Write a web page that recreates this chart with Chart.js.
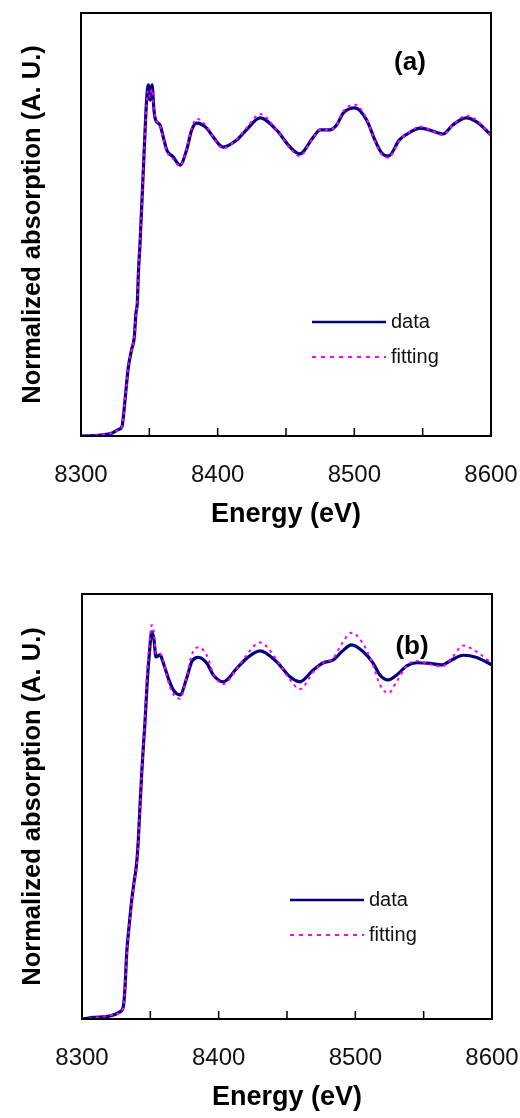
<!DOCTYPE html>
<html>
<head>
<meta charset="utf-8">
<script src="https://cdn.jsdelivr.net/npm/chart.js@4.4.1/dist/chart.umd.min.js"></script>
<style>
  html, body { margin: 0; padding: 0; background: #fff; }
  .panel { position: absolute; left: 0; width: 520px; }
  #panelA { top: 0; height: 560px; }
  #panelB { top: 581px; height: 537px; }
</style>
</head>
<body>
<div class="panel" id="panelA"><canvas id="chartA"></canvas></div>
<div class="panel" id="panelB"><canvas id="chartB"></canvas></div>
<script>
// energy grid (eV) and normalized absorption, sample (a)
const energyA = [8300, 8314, 8323, 8327, 8330, 8331, 8332, 8333.4, 8334.6, 8337,
  8339, 8340.2, 8341.2, 8342, 8343.2, 8344.4, 8345.6, 8346.8, 8348, 8349.2,
  8350.5, 8352, 8353.4, 8354.6, 8357.8, 8360.2, 8362.7, 8367.5, 8372.4, 8377.3,
  8381, 8384.7, 8392, 8396.8, 8404, 8414, 8421, 8431, 8443, 8453,
  8460, 8470, 8475, 8482, 8487, 8492, 8500.5, 8509, 8515, 8520,
  8525, 8533, 8541, 8548, 8555, 8565, 8572, 8582, 8589.5, 8600];
const dataA = [0.00, 0.003, 0.01, 0.02, 0.03, 0.062, 0.106, 0.17, 0.22, 0.277,
  0.318, 0.395, 0.428, 0.524, 0.62, 0.736, 0.855, 0.974, 1.08, 1.129,
  1.08, 1.129, 1.048, 1.016, 1.0, 0.961, 0.92, 0.897, 0.871, 0.92,
  0.984, 1.006, 0.99, 0.961, 0.929, 0.952, 0.984, 1.023, 0.984, 0.929,
  0.907, 0.961, 0.984, 0.984, 1.0, 1.039, 1.055, 1.016, 0.952, 0.91,
  0.9, 0.952, 0.977, 0.99, 0.984, 0.971, 1.0, 1.023, 1.01, 0.968];
const fitA = [0.00, 0.004, 0.01, 0.018, 0.03, 0.06, 0.11, 0.165, 0.225, 0.275,
  0.32, 0.39, 0.43, 0.52, 0.625, 0.73, 0.86, 0.97, 1.07, 1.11,
  1.09, 1.115, 1.05, 1.02, 1.0, 0.955, 0.915, 0.89, 0.868, 0.925,
  0.99, 1.02, 0.995, 0.96, 0.925, 0.955, 0.99, 1.035, 0.985, 0.925,
  0.9, 0.96, 0.985, 0.985, 1.0, 1.045, 1.065, 1.02, 0.948, 0.905,
  0.895, 0.95, 0.98, 0.995, 0.985, 0.968, 1.0, 1.03, 1.015, 0.965];

// sample (b)
const energyB = [8300, 8308, 8320.5, 8327.8, 8330.2, 8331.5, 8332.7, 8334.4, 8336.4, 8338,
  8340, 8341.2, 8342.4, 8343.7, 8345, 8346.1, 8347.8, 8349.3, 8351, 8352.7,
  8354.1, 8357.1, 8359.5, 8363.1, 8366.8, 8371.7, 8376.6, 8380.3, 8385.1, 8391.2,
  8396.1, 8403.4, 8413.2, 8420.5, 8430.2, 8442.4, 8452.2, 8459.5, 8469.2, 8476.6,
  8483.9, 8490, 8497.3, 8505.8, 8513.1, 8518, 8524.1, 8530.3, 8537.6, 8544.9,
  8554.6, 8563.2, 8570.5, 8579, 8588.8, 8600];
const dataB = [0.0, 0.005, 0.01, 0.023, 0.039, 0.103, 0.211, 0.295, 0.381, 0.435,
  0.499, 0.573, 0.679, 0.787, 0.88, 0.951, 1.085, 1.171, 1.239, 1.213,
  1.159, 1.165, 1.139, 1.091, 1.053, 1.037, 1.091, 1.143, 1.157, 1.139,
  1.101, 1.079, 1.122, 1.154, 1.178, 1.143, 1.095, 1.079, 1.117, 1.14,
  1.149, 1.175, 1.197, 1.175, 1.138, 1.101, 1.085, 1.101, 1.13, 1.14,
  1.138, 1.133, 1.149, 1.164, 1.157, 1.133];
const fitB = [0.0, 0.003, 0.012, 0.02, 0.04, 0.1, 0.205, 0.29, 0.375, 0.43,
  0.49, 0.565, 0.675, 0.79, 0.88, 0.97, 1.11, 1.2, 1.261, 1.235,
  1.17, 1.17, 1.145, 1.08, 1.04, 1.025, 1.095, 1.165, 1.19, 1.165,
  1.105, 1.072, 1.12, 1.165, 1.205, 1.15, 1.085, 1.056, 1.11, 1.14,
  1.155, 1.2, 1.236, 1.2, 1.13, 1.07, 1.043, 1.08, 1.13, 1.146,
  1.135, 1.128, 1.155, 1.195, 1.175, 1.138];

const xTicks = [8300, 8400, 8500, 8600];
const minorTicks = [8350, 8400, 8450, 8500, 8550];
const seriesNames = ['data', 'fitting'];

const FONT = '"Liberation Sans", Arial, sans-serif';
const NAVY = '#000080';
const MAGENTA = '#ff00ff';

// box round the plot, inward ticks, panel letter and the legend
const framePlugin = {
  id: 'frame',
  afterDatasetsDraw(chart, args, opts) {
    const { ctx, chartArea: a, scales: { x } } = chart;
    ctx.save();
    ctx.strokeStyle = '#000';
    ctx.lineWidth = 1.5;
    minorTicks.forEach(v => {
      const px = x.getPixelForValue(v);
      ctx.beginPath();
      ctx.moveTo(px, a.bottom);
      ctx.lineTo(px, a.bottom - 8);
      ctx.stroke();
    });
    ctx.lineWidth = 2;
    ctx.strokeRect(a.left, a.top, a.right - a.left, a.bottom - a.top);

    ctx.fillStyle = '#000';
    ctx.font = 'bold 26px ' + FONT;
    ctx.textAlign = 'center';
    ctx.textBaseline = 'middle';
    ctx.fillText(opts.letter, a.left + opts.letterX, a.top + opts.letterY);

    const lx = a.left + opts.legendX, ly = a.top + opts.legendY;
    ctx.lineWidth = 2.5;
    ctx.strokeStyle = NAVY;
    ctx.beginPath();
    ctx.moveTo(lx, ly);
    ctx.lineTo(lx + 74, ly);
    ctx.stroke();
    ctx.lineWidth = 2;
    ctx.strokeStyle = MAGENTA;
    ctx.setLineDash([4, 5]);
    ctx.beginPath();
    ctx.moveTo(lx, ly + 35);
    ctx.lineTo(lx + 74, ly + 35);
    ctx.stroke();
    ctx.setLineDash([]);
    ctx.font = '20px ' + FONT;
    ctx.textAlign = 'left';
    ctx.fillStyle = '#111';
    ctx.fillText(seriesNames[0], lx + 79, ly);
    ctx.fillText(seriesNames[1], lx + 79, ly + 35);
    ctx.restore();
  }
};

function makePanel(id, energy, data, fit, p) {
  const pts = vals => energy.map((e, i) => ({ x: e, y: vals[i] }));
  return new Chart(document.getElementById(id), {
    type: 'line',
    data: {
      datasets: [
        { label: seriesNames[0], data: pts(data), borderColor: NAVY, borderWidth: 3.2,
          pointRadius: 0, cubicInterpolationMode: 'monotone', order: 1 },
        { label: seriesNames[1], data: pts(fit), borderColor: MAGENTA, borderWidth: 2,
          borderDash: [3, 4], pointRadius: 0, cubicInterpolationMode: 'monotone', order: 0 }
      ]
    },
    options: {
      responsive: true,
      maintainAspectRatio: false,
      animation: false,
      events: [],
      layout: { padding: { top: 13, right: p.right, left: 0, bottom: 0 } },
      plugins: {
        legend: { display: false },
        tooltip: { enabled: false },
        frame: p.frame
      },
      scales: {
        x: {
          type: 'linear', min: 8300, max: 8600,
          afterBuildTicks: s => { s.ticks = xTicks.map(v => ({ value: v })); },
          afterFit: s => { s.height = p.xHeight; s.paddingLeft = 0; s.paddingRight = 0; },
          grid: { display: false },
          border: { display: false },
          ticks: { color: '#111', padding: 17, maxRotation: 0,
                   callback: v => String(v),
                   font: { family: FONT, size: 24 } },
          title: { display: true, text: 'Energy (eV)', color: '#000',
                   padding: { top: 0, bottom: p.titlePad },
                   font: { family: FONT, size: 27, weight: 'bold' } }
        },
        y: {
          min: 0, max: 1.36,
          afterFit: s => { s.width = p.yWidth; },
          grid: { display: false },
          border: { display: false },
          ticks: { display: false },
          title: { display: true, text: 'Normalized absorption (A. U.)', color: '#000',
                   padding: { top: 18, bottom: 0 },
                   font: { family: FONT, size: 25.5, weight: 'bold' } }
        }
      }
    },
    plugins: [framePlugin]
  });
}

makePanel('chartA', energyA, dataA, fitA, {
  right: 29, xHeight: 124, yWidth: 81, titlePad: 29,
  frame: { letter: '(a)', letterX: 329, letterY: 50, legendX: 231, legendY: 309 }
});
makePanel('chartB', energyB, dataB, fitB, {
  right: 28, xHeight: 99, yWidth: 82, titlePad: 4,
  frame: { letter: '(b)', letterX: 330, letterY: 53, legendX: 208, legendY: 306 }
});
</script>
</body>
</html>
